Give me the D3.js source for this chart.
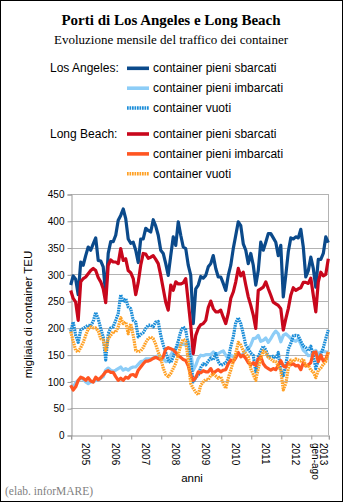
<!DOCTYPE html>
<html>
<head>
<meta charset="utf-8">
<script src="https://cdn.jsdelivr.net/npm/d3@7"></script>
<style>
  body { margin: 0; background: #fff; }
  svg { display: block; }
</style>
</head>
<body>
<div id="chart"></div>
<script>
// monthly values, Jan 2005 - Aug 2013 (thousand TEU)
const yearLabels = ["2005", "2006", "2007", "2008", "2009", "2010", "2011", "2012", "2013|gen-ago"];
const yTicks = [0, 50, 100, 150, 200, 250, 300, 350, 400, 450];

const laSbarcati = [280,297,291,262,323,317,335,351,345,357,
  368,326,325,314,262,339,361,361,373,401,
  410,422,404,366,358,360,345,322,366,366,
  386,382,379,402,390,373,345,339,320,298,
  335,370,354,398,373,351,348,317,298,208,
  273,280,296,293,298,314,320,335,311,295,
  295,283,270,298,317,348,373,398,391,357,
  345,320,339,317,280,307,360,345,360,376,
  376,368,360,335,354,258,298,342,368,366,
  370,368,384,351,295,307,332,311,276,328,
  328,339,370,359];
const laImbarcati = [93,88,98,102,106,104,99,96,99,99,
  102,102,106,109,121,125,121,119,121,124,
  127,121,124,121,125,127,127,132,137,138,
  142,142,142,144,146,148,146,143,137,138,
  149,158,161,168,168,170,168,174,155,121,
  130,143,149,148,150,150,150,155,151,152,
  155,157,149,143,149,146,149,151,148,152,
  158,161,168,180,181,186,175,177,181,173,
  180,188,194,189,174,186,189,185,180,177,
  175,179,170,158,154,148,149,155,158,151,
  155,157,155,155];
const laVuoti = [193,211,186,173,196,199,202,205,204,212,
  229,217,199,183,140,189,200,202,214,227,
  262,248,255,239,236,214,211,183,188,191,
  199,205,205,202,211,212,186,168,154,140,
  135,146,161,175,194,202,196,168,137,99,
  107,112,126,133,131,138,144,140,152,137,
  130,132,135,143,165,183,210,219,208,189,
  168,161,153,149,118,146,157,166,159,146,
  146,147,143,154,121,111,130,160,171,185,
  186,185,175,166,163,157,166,149,124,140,
  150,163,180,196];
const lbSbarcati = [270,255,248,214,286,292,295,301,307,311,
  307,294,286,273,247,317,327,323,323,320,
  348,326,329,307,303,292,262,285,317,339,
  338,330,332,335,328,320,298,273,248,233,
  280,270,286,282,282,284,292,248,205,152,
  186,199,206,208,214,238,250,236,230,230,
  233,220,208,227,255,267,286,311,297,304,
  280,258,242,224,199,270,273,276,286,273,
  261,248,245,242,236,196,217,236,261,275,
  270,273,275,285,285,283,293,261,230,286,
  304,297,300,329];
const lbImbarcati = [93,84,90,102,108,106,102,107,101,99,
  108,103,107,112,118,120,117,117,109,102,
  106,102,108,106,112,113,109,121,127,133,
  138,138,140,143,145,143,140,146,160,163,
  161,159,154,148,145,141,139,129,112,102,
  107,118,116,120,118,118,124,115,119,122,
  118,121,122,133,140,137,144,154,146,149,
  143,135,131,135,130,142,146,133,127,124,
  121,124,122,130,139,129,127,135,131,133,
  129,130,122,135,129,131,135,154,155,137,
  149,138,142,155];
const lbVuoti = [193,175,158,155,163,173,186,198,202,200,
  200,194,180,177,158,180,186,193,192,202,
  219,208,211,189,208,186,158,155,157,163,
  173,180,183,180,169,155,143,125,113,109,
  115,124,134,150,168,179,175,140,96,87,
  80,75,93,99,104,103,111,114,110,106,
  109,96,87,106,121,137,152,173,168,157,
  152,146,124,113,102,124,143,157,154,145,
  142,138,137,129,121,84,96,124,140,137,
  142,140,138,142,129,130,121,118,107,121,
  125,132,137,155];

const series = [
  { port: "Los Angeles:", name: "container pieni sbarcati", values: laSbarcati, color: "#0b4a8b", dash: null },
  { port: null, name: "container pieni imbarcati", values: laImbarcati, color: "#8dcdf7", dash: null },
  { port: null, name: "container vuoti", values: laVuoti, color: "#1b8dd8", dash: "1.7,0.8" },
  { port: "Long Beach:", name: "container pieni sbarcati", values: lbSbarcati, color: "#c8071c", dash: null },
  { port: null, name: "container pieni imbarcati", values: lbImbarcati, color: "#ff5522", dash: null },
  { port: null, name: "container vuoti", values: lbVuoti, color: "#ffa126", dash: "1.7,0.8" }
];

const width = 343, height = 502;
const sans = "'Liberation Sans', Arial, sans-serif";
const serif = "'Liberation Serif', 'Times New Roman', serif";

const svg = d3.select("#chart").append("svg")
  .attr("width", width)
  .attr("height", height);

svg.append("rect")
  .attr("x", 0.5).attr("y", 0.5)
  .attr("width", width - 1).attr("height", height - 1)
  .attr("fill", "#fff").attr("stroke", "#000");

// titles
svg.append("text")
  .attr("x", 171).attr("y", 24.5)
  .attr("text-anchor", "middle")
  .attr("font-family", serif).attr("font-weight", "bold").attr("font-size", 15)
  .text("Porti di Los Angeles e Long Beach");
svg.append("text")
  .attr("x", 171).attr("y", 44)
  .attr("text-anchor", "middle")
  .attr("font-family", serif).attr("font-size", 13)
  .text("Evoluzione mensile del traffico dei container");

// legend
const legendY = [68.3, 88.2, 108, 134, 153.9, 173.7];
const legend = svg.append("g").attr("font-family", sans).attr("font-size", 12);
series.forEach(function (s, i) {
  const ly = legendY[i];
  if (s.port) {
    legend.append("text").attr("x", 50).attr("y", ly + 3.8).text(s.port);
  }
  legend.append("line")
    .attr("x1", 127).attr("x2", 149).attr("y1", ly).attr("y2", ly)
    .attr("stroke", s.color).attr("stroke-width", 3.6)
    .attr("stroke-dasharray", s.dash);
  legend.append("text").attr("x", 153).attr("y", ly + 3.8).text(s.name);
});

// scales
const x = d3.scaleLinear().domain([0, 103]).range([70.7, 328.3]);
const y = d3.scaleLinear().domain([0, 450]).range([435, 194]);

// gridlines
svg.append("g")
  .selectAll("line")
  .data(yTicks.filter(function (d) { return d > 0; }))
  .enter().append("line")
  .attr("x1", x(0)).attr("x2", x(103))
  .attr("y1", function (d) { return Math.round(y(d)) + 0.5; })
  .attr("y2", function (d) { return Math.round(y(d)) + 0.5; })
  .attr("stroke", "#b3b3b3");

svg.append("line")
  .attr("x1", Math.round(x(103)) + 0.5).attr("x2", Math.round(x(103)) + 0.5)
  .attr("y1", y(450)).attr("y2", y(0))
  .attr("stroke", "#b3b3b3");

// y axis
const yAxis = svg.append("g")
  .attr("transform", "translate(" + (Math.round(x(0)) + 0.5) + ",0.5)")
  .call(d3.axisLeft(y).tickValues(yTicks).tickSize(4).tickPadding(3));
yAxis.select(".domain").attr("stroke", "#999");
yAxis.selectAll(".tick line").attr("stroke", "#999");
yAxis.selectAll("text").attr("font-family", sans).attr("font-size", 10).attr("fill", "#000");

svg.append("text")
  .attr("transform", "translate(32,314.5) rotate(-90)")
  .attr("text-anchor", "middle")
  .attr("font-family", sans).attr("font-size", 11.5)
  .text("migliaia di container TEU");

// x axis
const monthTicks = [0, 12, 24, 36, 48, 60, 72, 84, 96, 103];
const xAxis = svg.append("g")
  .attr("transform", "translate(0.5," + (Math.round(y(0)) + 0.5) + ")")
  .call(d3.axisBottom(x).tickValues(monthTicks).tickSize(4).tickFormat(""));
xAxis.select(".domain").attr("stroke", "#999");
xAxis.selectAll(".tick line").attr("stroke", "#999");

const yearG = svg.append("g").attr("font-family", sans).attr("font-size", 10);
yearLabels.forEach(function (lab, k) {
  const start = k * 12;
  const end = Math.min(start + 12, 103);
  const cx = (x(start) + x(end)) / 2;
  const lines = lab.split("|");
  const t = yearG.append("text")
    .attr("transform", "translate(" + (cx - 3.6 + (lines.length - 1) * 4.3) + ",443) rotate(90)");
  lines.forEach(function (l, j) {
    t.append("tspan").attr("x", 0).attr("dy", j === 0 ? 0 : 8.6).text(l);
  });
});

svg.append("text")
  .attr("x", 192).attr("y", 482)
  .attr("text-anchor", "middle")
  .attr("font-family", sans).attr("font-size", 11.5)
  .text("anni");

// lines
const line = d3.line()
  .x(function (d, i) { return x(i); })
  .y(function (d) { return y(d); });

series.forEach(function (s) {
  svg.append("path")
    .datum(s.values)
    .attr("d", line)
    .attr("fill", "none")
    .attr("stroke", s.color)
    .attr("stroke-width", 3.2)
    .attr("stroke-linejoin", "round")
    .attr("stroke-dasharray", s.dash);
});

svg.append("text")
  .attr("x", 5).attr("y", 495)
  .attr("font-family", serif).attr("font-size", 11.5)
  .attr("fill", "#7f7f7f")
  .text("(elab. inforMARE)");
</script>
</body>
</html>
